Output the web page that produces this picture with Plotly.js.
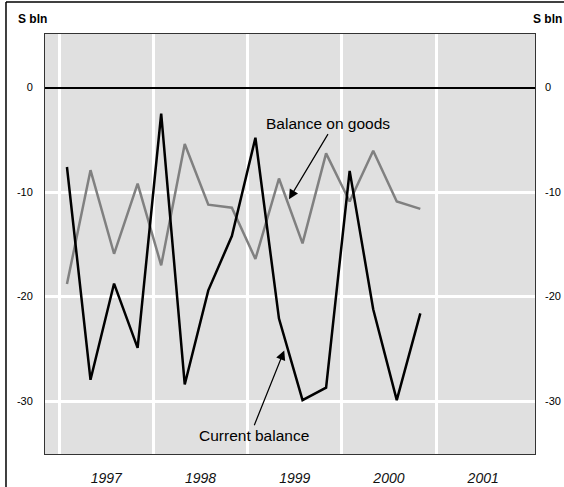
<!DOCTYPE html>
<html>
<head>
<meta charset="utf-8">
<script src="https://cdn.plot.ly/plotly-3.0.1.min.js"></script>
<style>html,body{margin:0;padding:0;background:#fff;}#chart{width:564px;height:487px;}</style>
</head>
<body>
<div id="chart"></div>
<script>
// Quarterly dates (decimal years), Q1 1997 .. Q4 2000
const quarters = [
  1997.083, 1997.333, 1997.583, 1997.833,
  1998.083, 1998.333, 1998.583, 1998.833,
  1999.083, 1999.333, 1999.583, 1999.833,
  2000.083, 2000.333, 2000.583, 2000.833
];
const balanceOnGoods = [
  -18.8, -7.9, -15.9, -9.2,
  -17.0, -5.4, -11.2, -11.5,
  -16.4, -8.7, -14.9, -6.3,
  -10.9, -6.05, -10.9, -11.6
];
const currentBalance = [
  -7.6, -27.95, -18.75, -24.9,
  -2.5, -28.4, -19.4, -14.2,
  -4.8, -22.1, -29.9, -28.7,
  -7.97, -21.2, -29.9, -21.6
];
const yearLabels = ['1997', '1998', '1999', '2000', '2001'];
const yearCentres = [1997.5, 1998.5, 1999.5, 2000.5, 2001.5];
const yearStarts = [1997, 1998, 1999, 2000, 2001];
const yTickVals = [0, -10, -20, -30];
const yTickText = ['0', '-10', '-20', '-30'];

const FONT = 'Liberation Sans, Arial, sans-serif';

const traces = [
  {x: quarters, y: balanceOnGoods, mode: 'lines', name: 'Balance on goods',
   line: {color: '#808080', width: 2.5}, hoverinfo: 'skip'},
  {x: quarters, y: currentBalance, mode: 'lines', name: 'Current balance',
   line: {color: '#000000', width: 2.5}, hoverinfo: 'skip'}
];

const yRange = [-35.05, 5.12];

const layout = {
  width: 564, height: 487,
  margin: {l: 45, r: 29, t: 34, b: 33, pad: 0},
  paper_bgcolor: '#ffffff',
  plot_bgcolor: '#e0e0e0',
  showlegend: false,
  font: {family: FONT, size: 11, color: '#000'},
  xaxis: {
    range: [1996.85, 2002.05],
    tickmode: 'array', tickvals: yearCentres, ticktext: yearLabels,
    ticks: '', ticklabelstandoff: 11,
    tickfont: {family: FONT, size: 14, color: '#111', style: 'italic'},
    showgrid: false, zeroline: false,
    showline: true, linecolor: '#333', linewidth: 1, mirror: true,
    minor: {tickmode: 'array', tickvals: yearStarts, showgrid: true, gridcolor: '#ffffff', gridwidth: 3, ticks: ''}
  },
  yaxis: {
    range: yRange,
    tickmode: 'array', tickvals: yTickVals, ticktext: yTickText,
    ticks: '', ticklabelstandoff: 9,
    tickfont: {family: FONT, size: 11, color: '#000'},
    showgrid: true, gridcolor: '#ffffff', gridwidth: 3,
    zeroline: true, zerolinecolor: '#000', zerolinewidth: 2,
    showline: true, linecolor: '#333', linewidth: 1, mirror: true
  },
  yaxis2: {
    range: yRange, overlaying: 'y', side: 'right',
    tickmode: 'array', tickvals: yTickVals, ticktext: yTickText,
    ticks: '', ticklabelstandoff: 9,
    tickfont: {family: FONT, size: 11, color: '#000'},
    showgrid: false, zeroline: false, showline: false
  },
  annotations: [
    {xref: 'paper', yref: 'paper', x: -0.0255, y: 1.036, text: '<b>S bln</b>', showarrow: false,
     xanchor: 'center', yanchor: 'middle', font: {family: FONT, size: 12, color: '#000'}},
    {xref: 'paper', yref: 'paper', x: 1.0265, y: 1.036, text: '<b>S bln</b>', showarrow: false,
     xanchor: 'center', yanchor: 'middle', font: {family: FONT, size: 12, color: '#000'}},
    {xref: 'x', yref: 'y', x: 1999.439, y: -10.49, ax: 1999.853, ay: -4.26, axref: 'x', ayref: 'y',
     text: 'Balance on goods', showarrow: true, arrowhead: 2, arrowsize: 1.6, arrowwidth: 1.2,
     arrowcolor: '#000', standoff: 0, startstandoff: 0, yanchor: 'bottom', yshift: -2,
     font: {family: FONT, size: 15.5, color: '#000'}},
    {xref: 'x', yref: 'y', x: 1999.389, y: -25.14, ax: 1999.071, ay: -32.3, axref: 'x', ayref: 'y',
     text: 'Current balance', showarrow: true, arrowhead: 2, arrowsize: 1.6, arrowwidth: 1.2,
     arrowcolor: '#000', standoff: 0, startstandoff: 0, yanchor: 'top', yshift: 0,
     font: {family: FONT, size: 15.5, color: '#000'}}
  ],
  shapes: [
    {type: 'line', xref: 'paper', yref: 'paper', x0: -0.0796, x1: -0.0796, y0: -0.2, y1: 1.0764,
     line: {color: '#000', width: 1.5}},
    {type: 'line', xref: 'paper', yref: 'paper', x0: -0.0796, x1: 1.2, y0: 1.0764, y1: 1.0764,
     line: {color: '#000', width: 1.5}}
  ]
};

// invisible trace to anchor yaxis2
traces.push({x: [quarters[0]], y: [yTickVals[0]], yaxis: 'y2', mode: 'markers',
  marker: {opacity: 0}, hoverinfo: 'skip', showlegend: false});

Plotly.newPlot('chart', traces, layout, {displayModeBar: false, staticPlot: true});
</script>
</body>
</html>
